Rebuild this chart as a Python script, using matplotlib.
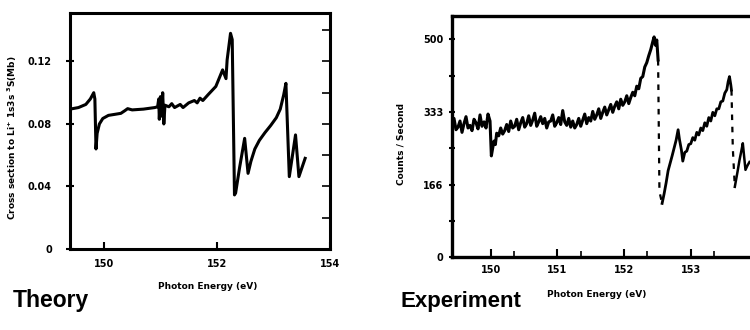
import matplotlib
matplotlib.use("Agg")
import matplotlib.pyplot as plt
from matplotlib.ticker import FixedLocator

plt.rcParams['font.family'] = ['DejaVu Sans']
plt.rcParams['font.weight'] = 'bold'

# ---------------- Theory data ----------------
theory_x = [149.40, 149.55, 149.68, 149.76, 149.82, 149.84, 149.86, 149.88, 149.92, 149.98,
            150.08, 150.20, 150.30, 150.37, 150.42, 150.50, 150.70, 150.90, 150.95, 150.97,
            150.98, 151.00, 151.02, 151.04, 151.06, 151.08, 151.15, 151.20, 151.25, 151.35,
            151.40, 151.50, 151.60, 151.65, 151.70, 151.75, 151.85, 151.98, 152.10, 152.16,
            152.18, 152.24, 152.27, 152.31, 152.33, 152.40, 152.49, 152.55, 152.60, 152.67,
            152.75, 152.85, 152.95, 153.05, 153.12, 153.18, 153.22, 153.28, 153.39, 153.45,
            153.56]
theory_y = [0.0895, 0.0905, 0.0925, 0.0960, 0.1000, 0.0960, 0.0640, 0.0740, 0.0800, 0.0835,
            0.0855, 0.0862, 0.0868, 0.0885, 0.0898, 0.0890, 0.0895, 0.0905, 0.0910, 0.0960,
            0.0830, 0.0975, 0.0850, 0.1000, 0.0800, 0.0920, 0.0910, 0.0930, 0.0905, 0.0925,
            0.0905, 0.0935, 0.0950, 0.0935, 0.0965, 0.0950, 0.0990, 0.1040, 0.1146, 0.1090,
            0.1210, 0.1380, 0.1340, 0.0346, 0.0358, 0.0520, 0.0708, 0.0484, 0.0560, 0.0640,
            0.0695, 0.0745, 0.0790, 0.0840, 0.0895, 0.0985, 0.1060, 0.0463, 0.0730, 0.0463,
            0.0580]

# ---------------- Experiment data ----------------
exp_x1 = [149.42, 149.45, 149.48, 149.51, 149.54, 149.57, 149.60, 149.63, 149.66, 149.69,
          149.72, 149.75, 149.78, 149.81, 149.84, 149.87, 149.90, 149.93, 149.96, 149.99,
          150.01, 150.03, 150.05, 150.07, 150.09, 150.12, 150.15, 150.18, 150.21, 150.24,
          150.27, 150.30, 150.33, 150.36, 150.39, 150.42, 150.45, 150.48, 150.51, 150.54,
          150.57, 150.60, 150.63, 150.66, 150.69, 150.72, 150.75, 150.78, 150.81, 150.84,
          150.87, 150.90, 150.93, 150.96, 150.99, 151.02, 151.05, 151.08, 151.11, 151.14,
          151.17, 151.20, 151.23, 151.26, 151.29, 151.32, 151.35, 151.38, 151.41, 151.44,
          151.47, 151.50, 151.53, 151.56, 151.59, 151.62, 151.65, 151.68, 151.71, 151.74,
          151.77, 151.80, 151.83, 151.86, 151.89, 151.92, 151.95, 151.98, 152.01, 152.04,
          152.07, 152.10, 152.13, 152.16, 152.19, 152.22, 152.25, 152.28, 152.31, 152.34,
          152.37, 152.40, 152.43, 152.45, 152.47, 152.49, 152.51]
exp_y1 = [300, 318, 292, 298, 312, 286, 306, 322, 296, 302,
          290, 316, 308, 294, 326, 300, 310, 296, 328, 312,
          232, 250, 266, 258, 284, 278, 296, 282, 290, 304,
          288, 312, 296, 300, 316, 292, 308, 320, 298, 306,
          324, 302, 314, 330, 300, 310, 322, 306, 318, 296, 310,
          312, 326, 300, 308, 320, 304, 336, 310, 302, 318,
          298, 312, 296, 304, 318, 300, 314, 328, 306, 320,
          312, 334, 316, 326, 340, 318, 332, 344, 326, 338,
          350, 332, 346, 356, 340, 362, 348, 356, 370, 352,
          366, 378, 370, 392, 386, 410, 414, 436, 446, 462,
          476, 494, 505, 486, 498, 452]

exp_gap1_x = [152.51, 152.53, 152.57]
exp_gap1_y = [452, 150, 123]

exp_x2 = [152.57, 152.60, 152.63, 152.66, 152.69, 152.72, 152.75, 152.78, 152.81, 152.83,
          152.86, 152.88, 152.91, 152.94, 152.97, 153.00, 153.03, 153.06, 153.09, 153.12,
          153.15, 153.18, 153.21, 153.24, 153.27, 153.30, 153.33, 153.36, 153.39, 153.42,
          153.45, 153.48, 153.51, 153.54, 153.56, 153.58, 153.60, 153.61]
exp_y2 = [123, 145, 170, 198, 215, 232, 250, 268, 292, 270,
          245, 220, 240, 243, 258, 260, 274, 268, 286, 280,
          296, 290, 308, 300, 320, 312, 332, 324, 340, 340,
          356, 358, 376, 384, 402, 414, 395, 383]

exp_gap2_x = [153.61, 153.63, 153.66]
exp_gap2_y = [383, 250, 161]

exp_x3 = [153.66, 153.70, 153.73, 153.76, 153.78, 153.80, 153.82, 153.85, 153.88]
exp_y3 = [161, 195, 222, 245, 261, 230, 200, 210, 218]

theory_yticks = [0, 0.04, 0.08, 0.12]
theory_ytick_labels = ['0', '0.04', '0.08', '0.12']
theory_xticks = [150, 152, 154]
exp_yticks = [0, 166, 333, 500]
exp_ytick_labels = ['0', '166', '333', '500']
exp_xticks = [150, 151, 152, 153]

W, H = 750, 330
fig = plt.figure(figsize=(7.5, 3.3), dpi=100)

def frac(x0, y_top, x1, y_bot):
    return [x0 / W, 1 - y_bot / H, (x1 - x0) / W, (y_bot - y_top) / H]

# ---------------- Theory panel ----------------
ax1 = fig.add_axes(frac(70, 13, 330, 249))
ax1.plot(theory_x, theory_y, color='black', lw=2.2, solid_joinstyle='round')
ax1.set_xlim(149.4, 154.0)
ax1.set_ylim(0, 0.151)
for s in ax1.spines.values():
    s.set_linewidth(2.2)
ax1.set_yticks(theory_yticks)
ax1.set_yticklabels(theory_ytick_labels)
ax1.set_xticks(theory_xticks)
ax1.set_xticklabels([str(t) for t in theory_xticks])
ax1.tick_params(axis='y', direction='inout', length=6, width=1.5, pad=10, labelsize=7)
ax1.tick_params(axis='x', direction='in', length=5, width=1.5, pad=7, labelsize=7)
ax1r = ax1.twinx()
ax1r.set_ylim(0, 0.151)
ax1r.set_yticks([0.02, 0.04, 0.06, 0.08, 0.10, 0.12, 0.14])
ax1r.tick_params(axis='y', direction='in', length=6, width=1.2, labelright=False)
for s in ax1r.spines.values():
    s.set_visible(False)
ax1.set_xlabel('Photon Energy (eV)', fontsize=6.5, fontweight='bold')
ax1.xaxis.set_label_coords(0.53, -0.14)
ax1.set_ylabel('Cross section to Li$^{+}$ 1s3s $^{3}$S(Mb)', fontsize=6.5,
               fontweight='bold')
ax1.yaxis.set_label_coords(-0.196, 0.47)
for lab in ax1.get_xticklabels() + ax1.get_yticklabels():
    lab.set_fontweight('bold')

# ---------------- Experiment panel ----------------
ax2 = fig.add_axes(frac(452, 16, 452 + (154.0 - 149.42) * 66.7, 257))
ax2.plot(exp_x1, exp_y1, color='black', lw=2.2, solid_joinstyle='round')
ax2.plot(exp_gap1_x, exp_gap1_y, color='black', lw=1.6, ls=(0, (2.5, 3)))
ax2.plot(exp_x2, exp_y2, color='black', lw=2.0, solid_joinstyle='round')
ax2.plot(exp_gap2_x, exp_gap2_y, color='black', lw=1.6, ls=(0, (2.5, 3)))
ax2.plot(exp_x3, exp_y3, color='black', lw=1.8)
ax2.set_xlim(149.42, 154.0)
ax2.set_ylim(0, 553)
for s in ax2.spines.values():
    s.set_linewidth(2.4)
ax2.set_yticks(exp_yticks)
ax2.set_yticklabels(exp_ytick_labels)
ax2.yaxis.set_minor_locator(FixedLocator([83, 250, 416]))
ax2.set_xticks(exp_xticks)
ax2.set_xticklabels([str(t) for t in exp_xticks])
ax2.xaxis.set_minor_locator(FixedLocator([150.35, 151.35, 152.35, 153.35]))
ax2.tick_params(axis='y', which='both', direction='inout', length=5, width=1.5, pad=3.5, labelsize=7)
ax2.tick_params(axis='x', which='major', direction='in', length=6, width=1.5, pad=6, labelsize=7)
ax2.tick_params(axis='x', which='minor', direction='in', length=4, width=1.2)
ax2.set_xlabel('Photon Energy (eV)', fontsize=6.5, fontweight='bold')
ax2.xaxis.set_label_coords((597 - 452) / ((154.0 - 149.42) * 66.7), -0.137)
ax2.set_ylabel('Counts / Second', fontsize=6.5, fontweight='bold')
ax2.yaxis.set_label_coords(-0.152, 0.47)
for lab in ax2.get_xticklabels() + ax2.get_yticklabels():
    lab.set_fontweight('bold')

fig.text(13 / W, 1 - 301 / H, 'Theory', fontsize=16.5, fontweight='bold', va='center',
         ha='left', family=['Liberation Sans', 'DejaVu Sans'])
fig.text(400 / W, 1 - 301 / H, 'Experiment', fontsize=16, fontweight='bold', va='center',
         ha='left', family=['Liberation Sans', 'DejaVu Sans'])

fig.savefig('out.png', dpi=100)
